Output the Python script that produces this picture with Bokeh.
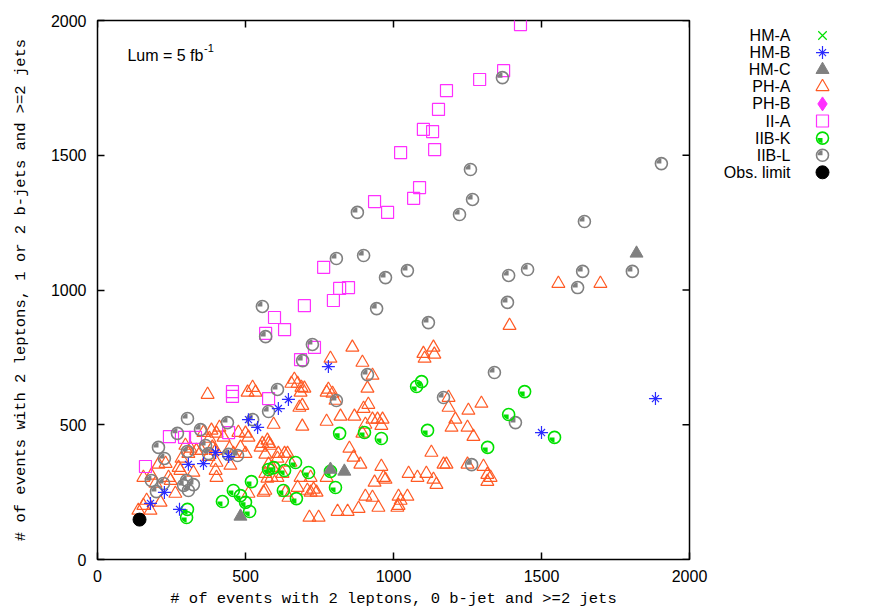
import math
from bokeh.plotting import figure
from bokeh.models import Range1d, Label, FixedTicker
from bokeh.layouts import row
from bokeh.embed import file_html
from bokeh.resources import INLINE
from bokeh.core.properties import value

# ---------------- data ----------------
tick_values = [0, 500, 1000, 1500, 2000]

hm_a_x = []
hm_a_y = []

hm_b_x = [780, 645, 611, 510, 541, 399, 443, 307, 358, 226, 179, 277, 1500, 1885]
hm_b_y = [716, 594, 560, 519, 490, 397, 382, 353, 356, 249, 208, 186, 471, 597]

hm_c_x = [1821, 834, 787, 483]
hm_c_y = [1136, 327, 334, 160]

ph_a_x = [1557, 1699, 1392, 861, 787, 895, 929, 912, 1135, 1101, 1138, 1105, 1186, 1186, 1253, 1297, 1209, 1196, 1250, 1270,
          794, 804, 821, 868, 899, 915, 929, 946, 963, 959, 905, 895, 851, 865, 888, 959, 966, 973, 936, 905,
          929, 949, 882, 811, 845, 1051, 1081, 1111, 1135, 1145, 1128, 1169, 1179, 1250, 1304, 1317, 1317, 1328, 1017, 1047,
          1024, 1017, 1013, 716, 747, 774, 730, 720, 740, 567, 645, 625, 608, 588, 632, 608, 567, 557, 578,
          665, 655, 676, 689, 686, 699, 682, 692, 780, 774, 774, 692, 595, 524, 507, 534, 372, 385, 358, 402, 476, 500, 510, 426, 412, 378,
          483, 459, 402, 449, 399, 402, 274, 240, 206, 230, 155, 182, 196, 263, 166, 213, 155, 138, 179,
          284, 307, 314, 297, 375, 399, 500, 388, 446, 551, 574, 584, 611, 642, 652, 578, 591, 567, 574, 561, 510, 635, 676, 709, 686, 720,
          324, 280, 247, 334, 351]
ph_a_y = [1024, 1024, 868, 787, 746, 731, 683, 635, 787, 764, 761, 746, 601, 564, 553, 579, 520, 490, 490, 456,
          616, 590, 531, 531, 560, 575, 520, 520, 520, 497, 501, 468, 412, 379, 353, 345, 304, 297, 286, 234,
          230, 193, 189, 178, 178, 319, 304, 319, 297, 278, 397, 353, 353, 353, 345, 315, 289, 304, 234, 234,
          219, 200, 193, 156, 156, 304, 260, 249, 249, 256, 230, 319, 304, 304, 393, 375, 390, 430, 430,
          668, 653, 653, 638, 620, 635, 564, 571, 631, 620, 512, 494, 501, 638, 620, 620, 612, 479, 471, 468, 471, 468, 453, 453, 490, 449,
          416, 393, 360, 349, 330, 304, 341, 304, 353, 356, 304, 312, 282, 245, 219, 212, 200, 182, 182,
          375, 393, 412, 423, 382, 404, 393, 416, 412, 416, 442, 423, 393, 393, 360, 353, 341, 319, 301, 249, 245, 249, 267, 256, 304, 304,
          323, 330, 293, 404, 404]

ph_b_x = []
ph_b_y = []

ii_a_x = [1429, 1372, 1291, 1179, 1152, 1101, 1132, 1139, 1024, 1088, 1068, 936, 980, 764, 818, 848, 797, 699, 598, 632,
          568, 733, 686, 456, 456, 578, 443, 243, 294, 331, 162]
ii_a_y = [1985, 1814, 1781, 1740, 1670, 1596, 1588, 1521, 1510, 1380, 1340, 1328, 1288, 1084, 1006, 1009, 961, 942, 898, 853,
          839, 787, 742, 623, 605, 597, 471, 456, 453, 453, 345]

iib_k_x = [1095, 1078, 1443, 1389, 1544, 1115, 1318, 818, 902, 959, 804, 787, 578, 595, 632, 669, 713, 520, 628, 672,
           459, 422, 483, 500, 514, 304, 301]
iib_k_y = [660, 642, 623, 538, 453, 479, 416, 468, 471, 449, 267, 327, 334, 341, 330, 360, 323, 289, 256, 226,
           256, 215, 237, 212, 178, 186, 156]

iib_l_x = [1368, 1260, 1267, 1223, 878, 807, 899, 973, 1047, 1389, 1453, 1385, 943, 557, 1118, 1905, 1645, 1639, 1622, 1807,
           568, 726, 693, 608, 912, 807, 578, 524, 439, 304, 348, 270, 206, 226, 304, 365, 375, 443, 473, 182,
           223, 199, 301, 324, 307, 291, 1341, 1169, 1412, 1264]
iib_l_y = [1788, 1447, 1336, 1280, 1288, 1117, 1128, 1046, 1072, 1054, 1076, 954, 931, 939, 879, 1469, 1254, 1069, 1009, 1069,
           827, 798, 738, 631, 686, 590, 549, 519, 508, 523, 482, 468, 416, 375, 401, 423, 393, 390, 386, 293,
           282, 252, 293, 278, 256, 275, 694, 601, 508, 352]

obs_x = [142]
obs_y = [148]

legend_labels = ["HM-A", "HM-B", "HM-C", "PH-A", "PH-B", "II-A", "IIB-K", "IIB-L", "Obs. limit"]

# ---------------- styles ----------------
C_GREEN = "#00e000"
C_BLUE = "#2a2aff"
C_GRAY = "#808080"
C_ORANGE = "#ff5a24"
C_MAGENTA = "#ff30ff"
SANS = "Liberation Sans"
MONO = "Liberation Mono"

p = figure(width=708, height=610, x_range=Range1d(0, 2000), y_range=Range1d(0, 2000),
           output_backend="svg", toolbar_location=None,
           min_border_left=97, min_border_right=19, min_border_top=20, min_border_bottom=51)
p.grid.visible = False
p.outline_line_color = "black"
p.outline_line_width = 1.5
p.background_fill_color = "white"
p.border_fill_color = "white"

ticker = FixedTicker(ticks=tick_values)
for ax in (p.xaxis[0], p.yaxis[0]):
    ax.ticker = ticker
    ax.axis_line_color = None
    ax.major_tick_in = 7
    ax.major_tick_out = 0
    ax.major_tick_line_width = 1.5
    ax.major_tick_line_color = "black"
    ax.minor_tick_line_color = None
    ax.major_label_text_font = SANS
    ax.major_label_text_font_size = "16px"
    ax.major_label_text_color = "black"
    ax.axis_label_text_font = MONO
    ax.axis_label_text_font_size = "15.5px"
    ax.axis_label_text_font_style = "normal"
    ax.axis_label_text_color = "black"

p.xaxis.axis_label = "# of events with 2 leptons, 0 b-jet and >=2 jets"
p.yaxis.axis_label = "# of events with 2 leptons, 1 or 2 b-jets and >=2 jets"
p.xaxis.major_label_standoff = 10
p.yaxis.major_label_standoff = 11
p.xaxis.axis_label_standoff = 5
p.yaxis.axis_label_standoff = 18

# mirrored ticks on the top and right edges (inward, like the bottom/left ones)
n_t = len(tick_values)
p.ray(x=tick_values, y=[2000] * n_t, length=7, length_units="screen", angle=-math.pi / 2,
      line_color="black", line_width=1.5)
p.ray(x=[2000] * n_t, y=tick_values, length=7, length_units="screen", angle=math.pi,
      line_color="black", line_width=1.5)

# series
p.scatter(ph_a_x, ph_a_y, marker="triangle", size=13, fill_color=None, line_color=C_ORANGE, line_width=1.2)
p.scatter(ii_a_x, ii_a_y, marker="square", size=12, fill_color=None, line_color=C_MAGENTA, line_width=1.2)
p.scatter(iib_l_x, iib_l_y, marker="circle", size=12, fill_color=None, line_color=C_GRAY, line_width=1.6)
p.wedge(iib_l_x, iib_l_y, radius=5, radius_units="screen", start_angle=math.pi / 2, end_angle=math.pi,
        fill_color=C_GRAY, line_color=None)
p.scatter(iib_k_x, iib_k_y, marker="circle", size=12, fill_color=None, line_color=C_GREEN, line_width=1.6)
p.wedge(iib_k_x, iib_k_y, radius=5, radius_units="screen", start_angle=math.pi, end_angle=1.5 * math.pi,
        fill_color=C_GREEN, line_color=None)
p.scatter(hm_c_x, hm_c_y, marker="triangle", size=13, fill_color=C_GRAY, line_color=C_GRAY)
p.scatter(hm_b_x, hm_b_y, marker="cross", size=13, line_color=C_BLUE, line_width=1.2)
p.scatter(hm_b_x, hm_b_y, marker="x", size=10, line_color=C_BLUE, line_width=1.2)
p.scatter(hm_a_x, hm_a_y, marker="x", size=12, line_color=C_GREEN, line_width=1.2)
p.scatter(ph_b_x, ph_b_y, marker="diamond", size=13, fill_color=C_MAGENTA, line_color=C_MAGENTA)
p.scatter(obs_x, obs_y, marker="circle", size=13, fill_color="black", line_color="black")

p.add_layout(Label(x=101, y=1870, text="Lum = 5 fb", text_font=SANS, text_font_size="16px",
                   text_baseline="alphabetic", text_color="black"))
p.add_layout(Label(x=360, y=1898, text="-1", text_font=SANS, text_font_size="11px",
                   text_baseline="alphabetic", text_color="black"))

# ---------------- legend panel (frame aligned with the plot frame: 539 px tall) ----------------
leg = figure(width=164, height=610, x_range=Range1d(0, 164), y_range=Range1d(0, 539),
             x_axis_type=None, y_axis_type=None,
             output_backend="svg", toolbar_location=None, min_border=0,
             min_border_top=20, min_border_bottom=51)
leg.grid.visible = False
leg.outline_line_color = None
leg.border_fill_color = "white"
leg.background_fill_color = "white"

n = len(legend_labels)
ly = [524 - 17.1 * i for i in range(n)]
tx = [82] * n
mx = 114
leg.text(tx, ly, text=legend_labels, text_align="right", text_baseline="middle",
         text_font=value(SANS), text_font_size="16px", text_color="black")
leg.scatter([mx], [ly[0]], marker="x", size=12, line_color=C_GREEN, line_width=1.2)
leg.scatter([mx], [ly[1]], marker="cross", size=13, line_color=C_BLUE, line_width=1.2)
leg.scatter([mx], [ly[1]], marker="x", size=10, line_color=C_BLUE, line_width=1.2)
leg.scatter([mx], [ly[2]], marker="triangle", size=13, fill_color=C_GRAY, line_color=C_GRAY)
leg.scatter([mx], [ly[3]], marker="triangle", size=13, fill_color=None, line_color=C_ORANGE, line_width=1.2)
leg.scatter([mx], [ly[4]], marker="diamond", size=14, fill_color=C_MAGENTA, line_color=C_MAGENTA)
leg.scatter([mx], [ly[5]], marker="square", size=12, fill_color=None, line_color=C_MAGENTA, line_width=1.2)
leg.scatter([mx], [ly[6]], marker="circle", size=12, fill_color=None, line_color=C_GREEN, line_width=1.6)
leg.wedge([mx], [ly[6]], radius=5, radius_units="screen", start_angle=math.pi, end_angle=1.5 * math.pi,
          fill_color=C_GREEN, line_color=None)
leg.scatter([mx], [ly[7]], marker="circle", size=12, fill_color=None, line_color=C_GRAY, line_width=1.6)
leg.wedge([mx], [ly[7]], radius=5, radius_units="screen", start_angle=math.pi / 2, end_angle=math.pi,
          fill_color=C_GRAY, line_color=None)
leg.scatter([mx], [ly[8]], marker="circle", size=13, fill_color="black", line_color="black")

layout = row(p, leg)
open("out.html", "w").write(file_html(layout, INLINE))
